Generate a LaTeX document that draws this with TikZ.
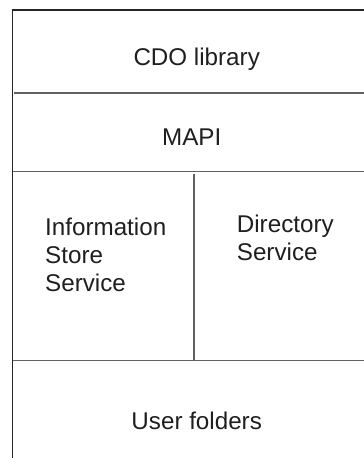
\documentclass[tikz,border=0pt]{standalone}
\usepackage{fontspec}
\setmainfont{Liberation Sans}
\begin{document}
\begin{tikzpicture}[x=1pt,y=-1pt,
  outerline/.style={draw=black!85, line width=1.1pt},
  innerline/.style={draw=black!62, line width=1.1pt},
  lbl/.style={font=\fontsize{24.2}{28}\selectfont, text=black!88, inner sep=0pt}]
\useasboundingbox (0,0) rectangle (364,458);
% frame
\coordinate (tl) at (12.5,10);
\coordinate (tr) at (364,10);
\coordinate (bl) at (12.5,458);
\draw[outerline] (bl) -- (tl) -- (tr);
% layer separators
\coordinate (s1l) at (14,93);   \coordinate (s1r) at (364,93);
\coordinate (s2l) at (12.5,171.5); \coordinate (s2r) at (364,171.5);
\coordinate (s3l) at (12.5,360.5); \coordinate (s3r) at (364,360.5);
\coordinate (vt) at (194,173.5);  \coordinate (vb) at (194,360.5);
\draw[innerline] (s1l) -- (s1r);
\draw[innerline] (s2l) -- (s2r);
\draw[innerline] (s3l) -- (s3r);
\draw[innerline] (vt) -- (vb);
% labels
\node[lbl, anchor=base] (cdo) at (196.7,65.3) {CDO library};
\node[lbl, anchor=base] (mapi) at (191.7,145) {MAPI};
\node[lbl, anchor=base west] (iss1) at (45,235.5) {Information};
\node[lbl, anchor=base west] (iss2) at (45,263.5) {Store};
\node[lbl, anchor=base west] (iss3) at (45,291.5) {Service};
\node[lbl, anchor=base west] (ds1) at (236.7,232.7) {Directory};
\node[lbl, anchor=base west] (ds2) at (236.7,260.7) {Service};
\node[lbl, anchor=base] (uf) at (196.7,429.3) {User folders};
\end{tikzpicture}
\end{document}
